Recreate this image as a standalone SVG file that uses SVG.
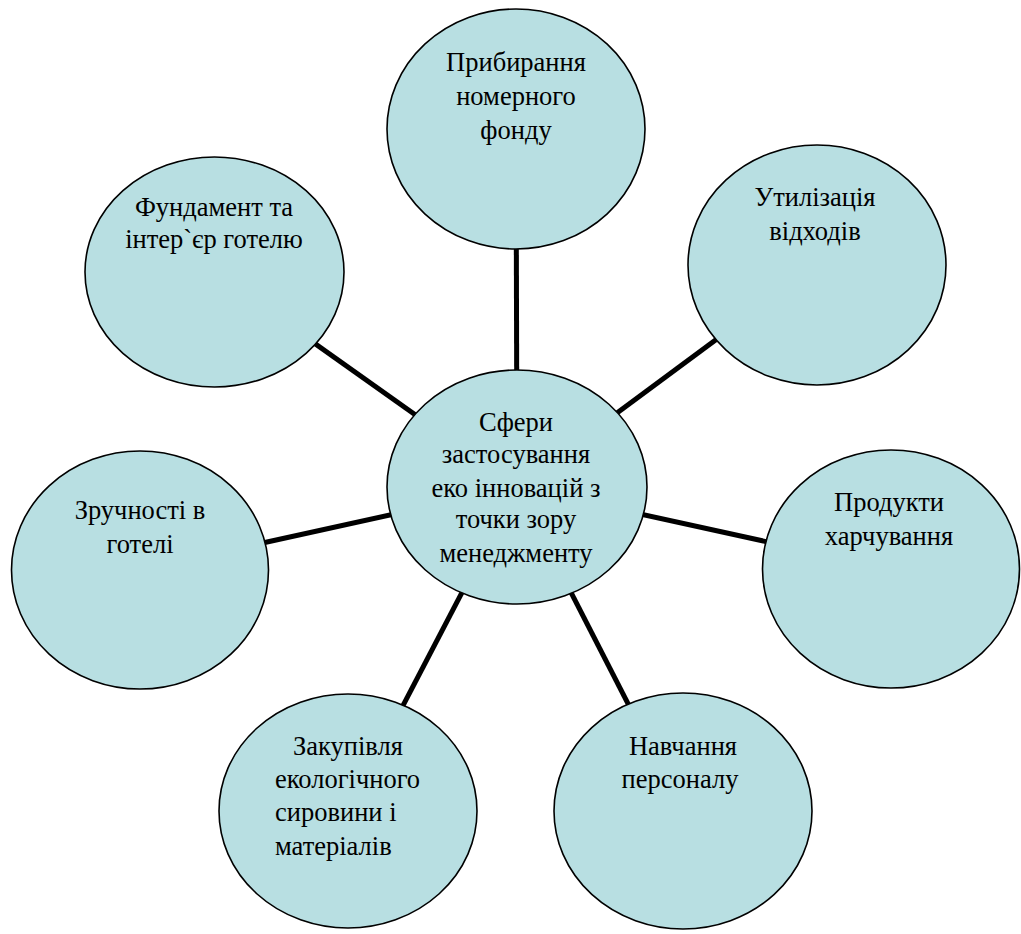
<svg xmlns="http://www.w3.org/2000/svg" width="1021" height="934" viewBox="0 0 1021 934">
<style>
.n{fill:#b8dfe2;stroke:#000;stroke-width:1.6}
.c{stroke:#000;stroke-width:5;fill:none}
text{font-family:"Liberation Serif","Times New Roman",serif;font-size:26.5px;fill:#000}
.m{text-anchor:middle}
</style>
<rect width="1021" height="934" fill="#fff"/>
<g id="connectors">
<line class="c" x1="517" y1="487" x2="516" y2="129"/>
<line class="c" x1="517" y1="487" x2="817" y2="265"/>
<line class="c" x1="517" y1="487" x2="891" y2="569"/>
<line class="c" x1="517" y1="487" x2="683" y2="811"/>
<line class="c" x1="517" y1="487" x2="348" y2="811"/>
<line class="c" x1="517" y1="487" x2="140" y2="570"/>
<line class="c" x1="517" y1="487" x2="214" y2="272"/>
</g>
<g id="node-top">
<ellipse class="n" cx="516" cy="129" rx="129" ry="120"/>
<text class="m" x="516" y="71">Прибирання</text>
<text class="m" x="516" y="105">номерного</text>
<text class="m" x="516" y="139">фонду</text>
</g>
<g id="node-topright">
<ellipse class="n" cx="817" cy="265" rx="129" ry="120"/>
<text class="m" x="815" y="206">Утилізація</text>
<text class="m" x="815" y="240">відходів</text>
</g>
<g id="node-right">
<ellipse class="n" cx="891" cy="569" rx="128.5" ry="119"/>
<text class="m" x="889" y="511">Продукти</text>
<text class="m" x="889" y="545">харчування</text>
</g>
<g id="node-bottomright">
<ellipse class="n" cx="683" cy="811" rx="129" ry="118"/>
<text class="m" x="683" y="755">Навчання</text>
<text class="m" x="680" y="788">персоналу</text>
</g>
<g id="node-bottomleft">
<ellipse class="n" cx="348" cy="811" rx="129" ry="117"/>
<text x="293" y="755">Закупівля</text>
<text x="275" y="788">екологічного</text>
<text x="275" y="821">сировини і</text>
<text x="275" y="855">матеріалів</text>
</g>
<g id="node-left">
<ellipse class="n" cx="140" cy="570" rx="128.5" ry="119"/>
<text class="m" x="140" y="519">Зручності в</text>
<text class="m" x="140" y="553">готелі</text>
</g>
<g id="node-topleft">
<ellipse class="n" cx="214.5" cy="272" rx="129.5" ry="115"/>
<text class="m" x="214" y="216">Фундамент та</text>
<text class="m" x="214" y="248">інтер`єр готелю</text>
</g>
<g id="node-center">
<ellipse class="n" cx="517" cy="487" rx="130" ry="117"/>
<text class="m" x="516" y="431">Сфери</text>
<text class="m" x="516" y="463">застосування</text>
<text class="m" x="516" y="497">еко інновацій з</text>
<text class="m" x="516" y="528">точки зору</text>
<text class="m" x="516" y="562">менеджменту</text>
</g>
</svg>
